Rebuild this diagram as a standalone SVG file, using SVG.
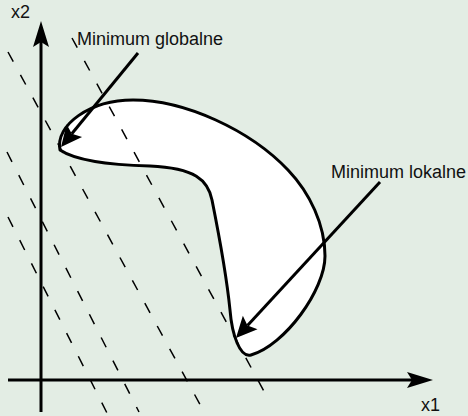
<svg xmlns="http://www.w3.org/2000/svg" width="468" height="416" viewBox="0 0 468 416">
<style>
.lbl{font-family:"Liberation Sans",Arial,sans-serif;font-size:18px;fill:#111}
.dash{stroke:#000;stroke-width:1.5;stroke-dasharray:11 15;fill:none}
.ax{stroke:#000;stroke-width:3;fill:none}
.ptr{stroke:#000;stroke-width:3;fill:none}
</style>
<defs>
<marker id="axhead" markerUnits="userSpaceOnUse" viewBox="0 -10 28 20" refX="5" refY="0" markerWidth="28" markerHeight="20" orient="auto" overflow="visible">
<path d="M0,-8 L26,0 L0,8 L5,0 Z" fill="#000"/>
</marker>
<marker id="ptrhead" markerUnits="userSpaceOnUse" viewBox="0 -11 22 22" refX="4" refY="0" markerWidth="22" markerHeight="22" orient="auto" overflow="visible">
<path d="M0,-10 L21,0 L0,10 L4,0 Z" fill="#000"/>
</marker>
</defs>
<rect x="0" y="0" width="468" height="416" fill="#e3ede4"/>
<g id="region">
<path d="M60,150 C55,125 90,100 133,100 C185,100 250,130 288,170 C310,193 325,225 325,256 C325,290 285,345 251,355 C240,358 232,335 230,310 C226,270 218,230 212,200 C208,180 195,168 150,166 C110,165 75,160 60,150 Z" fill="#fff" stroke="#000" stroke-width="3" stroke-linejoin="round"/>
</g>
<g id="level-lines">
<line class="dash" x1="8" y1="52" x2="203" y2="410"/>
<line class="dash" x1="7" y1="152" x2="139" y2="412"/>
<line class="dash" x1="8" y1="217" x2="108" y2="415"/>
<line class="dash" x1="72" y1="38" x2="266" y2="395"/>
</g>
<g id="axes">
<line class="ax" x1="41" y1="412" x2="41" y2="42" marker-end="url(#axhead)"/>
<line class="ax" x1="8" y1="380" x2="412" y2="380" marker-end="url(#axhead)"/>
<text class="lbl" x="11" y="18">x2</text>
<text class="lbl" x="421" y="411">x1</text>
</g>
<g id="connectors">
<line class="ptr" x1="138" y1="53" x2="71.8" y2="133.8" marker-end="url(#ptrhead)"/>
<line class="ptr" x1="380" y1="182" x2="247.5" y2="325.5" marker-end="url(#ptrhead)"/>
</g>
<g id="label-global">
<text class="lbl" x="77" y="45">Minimum globalne</text>
</g>
<g id="label-local">
<text class="lbl" x="331" y="178">Minimum lokalne</text>
</g>
</svg>
